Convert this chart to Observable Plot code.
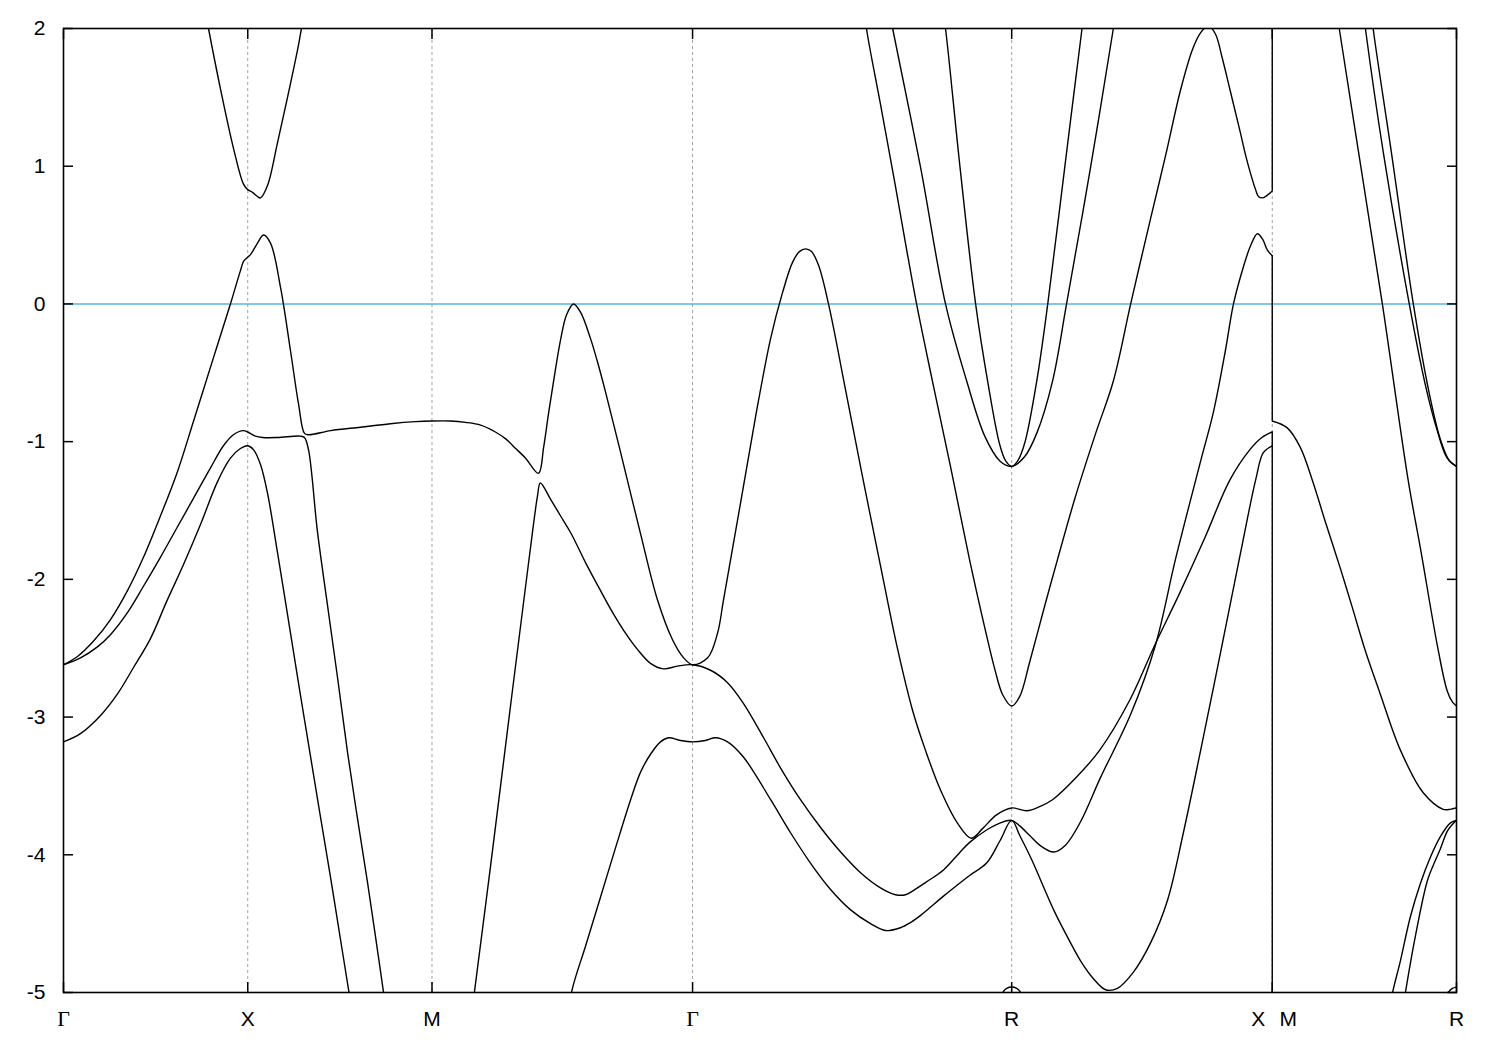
<!DOCTYPE html>
<html><head><meta charset="utf-8">
<script src="https://cdn.jsdelivr.net/npm/d3@7"></script>
<script src="https://cdn.jsdelivr.net/npm/@observablehq/plot@0.6"></script>
<style>body{margin:0;background:#fff}</style>
</head><body><div id="chart"></div>
<script>
// High-symmetry points (path length) and their labels
const kPoints = [0, 0.5, 1.0, 1.7071, 2.5731, 3.2802, 3.7802];
const kNames = ["Γ", "X", "M", "Γ", "R", "X|M", "R"];
const yTicks = [-5, -4, -3, -2, -1, 0, 1, 2];
const fermiLevel = [0];
// energy jumps drawn at the X|M discontinuity [from, to]
const xmJumps = [[2, 0.82], [0.35, -0.85], [-0.93, -5]];

// Bands: [k, E(eV)]
const bandA = [[0,-3.18],[0.046,-3.12],[0.100,-2.99],[0.147,-2.83],[0.190,-2.64],[0.236,-2.43],[0.280,-2.16],[0.326,-1.89],[0.372,-1.60],[0.418,-1.29],[0.453,-1.12],[0.480,-1.05],[0.500,-1.03],[0.516,-1.06],[0.535,-1.17],[0.554,-1.38],[0.581,-1.81],[0.616,-2.39],[0.643,-2.84],[0.670,-3.28],[0.697,-3.72],[0.725,-4.17],[0.752,-4.62],[0.773,-4.97],[0.784,-5.15]];
const bandB = [[0,-2.62],[0.046,-2.57],[0.092,-2.49],[0.128,-2.40],[0.174,-2.24],[0.217,-2.05],[0.263,-1.84],[0.309,-1.62],[0.353,-1.41],[0.399,-1.19],[0.434,-1.03],[0.461,-0.95],[0.488,-0.92],[0.500,-0.93],[0.521,-0.96],[0.540,-0.97],[0.581,-0.97],[0.643,-0.96],[0.654,-0.97],[0.665,-1.06],[0.689,-1.65],[0.716,-2.18],[0.744,-2.72],[0.771,-3.26],[0.798,-3.74],[0.825,-4.20],[0.847,-4.60],[0.868,-4.99],[0.879,-5.2]];
const bandC = [[0,-2.62],[0.038,-2.56],[0.081,-2.45],[0.128,-2.29],[0.174,-2.08],[0.217,-1.84],[0.263,-1.54],[0.309,-1.22],[0.353,-0.85],[0.407,-0.39],[0.453,0.0],[0.480,0.24],[0.489,0.31],[0.508,0.36],[0.526,0.44],[0.543,0.50],[0.562,0.44],[0.589,0.12],[0.616,-0.34],[0.638,-0.73],[0.654,-0.94],[0.665,-0.95],[0.725,-0.92],[0.806,-0.895],[0.887,-0.87],[0.955,-0.855],[1.0,-0.85],[1.050,-0.85],[1.091,-0.86],[1.132,-0.88],[1.172,-0.93],[1.200,-0.98],[1.227,-1.05],[1.254,-1.12],[1.289,-1.23],[1.303,-1.04],[1.316,-0.80],[1.330,-0.56],[1.349,-0.26],[1.365,-0.08],[1.384,0.0],[1.403,-0.06],[1.430,-0.25],[1.449,-0.42],[1.471,-0.64],[1.512,-1.08],[1.566,-1.67],[1.612,-2.15],[1.653,-2.44],[1.683,-2.57],[1.7071,-2.62],[1.748,-2.57],[1.775,-2.39],[1.791,-2.15],[1.837,-1.45],[1.878,-0.82],[1.919,-0.25],[1.951,0.08],[1.978,0.30],[1.997,0.38],[2.014,0.40],[2.030,0.38],[2.049,0.28],[2.076,0.0],[2.122,-0.62],[2.168,-1.25],[2.217,-1.90],[2.263,-2.50],[2.304,-2.95],[2.339,-3.24],[2.380,-3.53],[2.426,-3.77],[2.464,-3.88],[2.494,-3.81],[2.532,-3.71],[2.5731,-3.66],[2.614,-3.68],[2.649,-3.65],[2.684,-3.60],[2.744,-3.45],[2.812,-3.24],[2.893,-2.88],[2.961,-2.48],[3.029,-2.10],[3.097,-1.70],[3.165,-1.28],[3.219,-1.06],[3.252,-0.97],[3.2802,-0.93]];
const bandD = [[1.104,-5.25],[1.115,-5.0],[1.159,-4.08],[1.213,-2.92],[1.254,-2.05],[1.273,-1.65],[1.286,-1.40],[1.294,-1.30],[1.322,-1.42],[1.349,-1.54],[1.376,-1.66],[1.417,-1.88],[1.457,-2.08],[1.490,-2.24],[1.520,-2.37],[1.558,-2.51],[1.593,-2.61],[1.628,-2.65],[1.666,-2.63],[1.7071,-2.62],[1.756,-2.66],[1.802,-2.75],[1.845,-2.90],[1.900,-3.15],[1.946,-3.37],[2.000,-3.60],[2.054,-3.80],[2.109,-3.98],[2.163,-4.13],[2.217,-4.24],[2.258,-4.29],[2.285,-4.29],[2.312,-4.25],[2.340,-4.20],[2.388,-4.11],[2.430,-3.99],[2.459,-3.91],[2.505,-3.82],[2.541,-3.77],[2.5731,-3.75],[2.595,-3.79],[2.622,-3.86],[2.649,-3.93],[2.687,-3.98],[2.719,-3.93],[2.760,-3.76],[2.814,-3.44],[2.896,-2.98],[2.963,-2.48],[3.018,-1.85],[3.086,-1.14],[3.121,-0.78],[3.153,-0.34],[3.175,0.0],[3.202,0.27],[3.221,0.42],[3.240,0.51],[3.254,0.47],[3.267,0.39],[3.2802,0.35]];
const bandE = [[1.368,-5.25],[1.3785,-5.0],[1.417,-4.66],[1.457,-4.31],[1.498,-3.95],[1.539,-3.60],[1.566,-3.40],[1.593,-3.27],[1.620,-3.18],[1.642,-3.15],[1.674,-3.17],[1.7071,-3.18],[1.742,-3.17],[1.769,-3.15],[1.802,-3.18],[1.845,-3.29],[1.919,-3.60],[1.973,-3.84],[2.027,-4.06],[2.081,-4.25],[2.136,-4.40],[2.190,-4.50],[2.231,-4.55],[2.271,-4.53],[2.300,-4.49],[2.326,-4.44],[2.388,-4.30],[2.430,-4.21],[2.459,-4.15],[2.505,-4.06],[2.541,-3.90],[2.5731,-3.75],[2.595,-3.86],[2.630,-4.05],[2.659,-4.23],[2.687,-4.40],[2.725,-4.60],[2.760,-4.77],[2.795,-4.90],[2.828,-4.98],[2.860,-4.97],[2.904,-4.85],[2.950,-4.64],[2.996,-4.33],[3.039,-3.84],[3.086,-3.24],[3.140,-2.53],[3.194,-1.81],[3.235,-1.28],[3.256,-1.08],[3.2802,-1.03]];
const bandF = [[2.168,2.25],[2.179,2.0],[2.217,1.45],[2.258,0.85],[2.285,0.44],[2.315,0.0],[2.358,-0.56],[2.407,-1.18],[2.459,-1.86],[2.500,-2.35],[2.527,-2.65],[2.549,-2.84],[2.5731,-2.92],[2.595,-2.85],[2.622,-2.60],[2.663,-2.19],[2.697,-1.86],[2.746,-1.40],[2.801,-0.94],[2.849,-0.56],[2.896,0.0],[2.950,0.62],[2.991,1.08],[3.031,1.55],[3.064,1.85],[3.086,1.97],[3.107,2.02],[3.126,1.96],[3.145,1.78],[3.166,1.55],[3.194,1.24],[3.207,1.09],[3.221,0.95],[3.235,0.83],[3.243,0.78],[3.254,0.77],[3.267,0.79],[3.2802,0.82]];
const bandG = [[0.3853,2.12],[0.3935,2.0],[0.4261,1.56],[0.4613,1.13],[0.4885,0.87],[0.5,0.83],[0.5129,0.81],[0.5265,0.78],[0.5346,0.77],[0.5536,0.86],[0.5807,1.17],[0.6079,1.50],[0.6377,1.88],[0.6458,2.0],[0.6540,2.1]];
const bandP1 = [[2.239,2.15],[2.250,2.0],[2.326,0.99],[2.3935,0.0],[2.451,-0.56],[2.500,-0.96],[2.541,-1.14],[2.5731,-1.18],[2.608,-1.11],[2.641,-0.94],[2.684,-0.56],[2.722,0.0],[2.787,0.99],[2.849,2.0],[2.857,2.15]];
const bandP2 = [[2.385,2.15],[2.3935,2.0],[2.433,0.99],[2.4752,0.0],[2.5078,-0.56],[2.5405,-1.02],[2.5568,-1.14],[2.5731,-1.18],[2.5894,-1.14],[2.6085,-1.01],[2.6411,-0.56],[2.671,0.0],[2.717,0.99],[2.764,2.0],[2.772,2.15]];
const bandArc = [[2.535,-5.1],[2.5486,-5.0],[2.5595,-4.97],[2.5731,-4.96],[2.5867,-4.97],[2.5976,-5.0],[2.6112,-5.1]];
const bandM1 = [[3.2802,-0.85],[3.321,-0.90],[3.356,-1.04],[3.389,-1.28],[3.424,-1.58],[3.465,-1.92],[3.497,-2.20],[3.533,-2.52],[3.573,-2.83],[3.628,-3.24],[3.690,-3.55],[3.744,-3.67],[3.763,-3.67],[3.7802,-3.66]];
const bandMa = [[3.451,2.2],[3.462,2.0],[3.514,1.11],[3.579,0.0],[3.649,-1.28],[3.682,-1.77],[3.731,-2.52],[3.755,-2.81],[3.769,-2.89],[3.7802,-2.92]];
const bandMb = [[3.524,2.2],[3.533,2.0],[3.581,1.11],[3.652,0.0],[3.695,-0.58],[3.728,-0.92],[3.755,-1.12],[3.7802,-1.18]];
const bandMc = [[3.546,2.2],[3.554,2.0],[3.603,1.11],[3.663,0.0],[3.704,-0.62],[3.736,-0.98],[3.761,-1.14],[3.7802,-1.18]];
const bandMd = [[3.595,-5.2],[3.606,-5.01],[3.628,-4.77],[3.655,-4.45],[3.682,-4.21],[3.709,-4.02],[3.736,-3.87],[3.763,-3.77],[3.7802,-3.75]];
const bandMe = [[3.630,-5.2],[3.641,-5.01],[3.668,-4.6],[3.701,-4.19],[3.723,-4.04],[3.736,-3.96],[3.755,-3.83],[3.769,-3.78],[3.7802,-3.75]];
const bandMf = [[3.744,-5.1],[3.758,-5.0],[3.769,-4.97],[3.7802,-4.96]];

const bandSeries = [["A",bandA],["B",bandB],["C",bandC],["D",bandD],["E",bandE],["F",bandF],["G",bandG],["P1",bandP1],["P2",bandP2],["Arc",bandArc],["M1",bandM1],["Ma",bandMa],["Mb",bandMb],["Mc",bandMc],["Md",bandMd],["Me",bandMe],["Mf",bandMf]];
const rows = bandSeries.flatMap(([id, pts]) => pts.map(([k, e]) => ({id, k, e})));
const labels = kPoints.map((k, i) => ({k, name: kNames[i]}));
const jumps = xmJumps.map(([a, b]) => ({k: kPoints[5], y1: a, y2: b}));
const gridK = kPoints.slice(1, -1);

const sans = "Liberation Sans, Arial, sans-serif";
const serif = "Liberation Serif, Times New Roman, serif";

const chart = Plot.plot({
  width: 1500, height: 1050,
  marginLeft: 63, marginRight: 44, marginTop: 28, marginBottom: 58,
  style: {fontFamily: sans, fontSize: "21px", background: "#fff"},
  x: {domain: [0, 3.7802]},
  y: {domain: [-5, 2]},
  marks: [
    Plot.ruleX(gridK, {stroke: "#a0a0a0", strokeWidth: 1, strokeDasharray: "3,3"}),
    Plot.ruleY(fermiLevel, {stroke: "#56b4e9", strokeWidth: 1.6}),
    Plot.line(rows, {x: "k", y: "e", z: "id", stroke: "black", strokeWidth: 1.4, curve: "catmull-rom", clip: true}),
    Plot.ruleX(jumps, {x: "k", y1: "y1", y2: "y2", stroke: "black", strokeWidth: 1.4}),
    Plot.frame({stroke: "black", strokeWidth: 1.6}),
    Plot.axisY(yTicks, {anchor: "left", tickSize: -10, tickPadding: 28, tickFormat: d => String(d), fontSize: 21, label: null, strokeWidth: 1.5}),
    Plot.axisY(yTicks, {anchor: "right", tickSize: -10, tickFormat: () => "", label: null, strokeWidth: 1.5}),
    Plot.axisX(kPoints, {anchor: "bottom", tickSize: -10, tickFormat: () => "", label: null, strokeWidth: 1.5}),
    Plot.axisX(kPoints, {anchor: "top", tickSize: -10, tickFormat: () => "", label: null, strokeWidth: 1.5}),
    Plot.text(labels.filter(d => d.name !== "Γ" && d.name !== "X|M"), {x: "k", text: "name", frameAnchor: "bottom", dy: 33, fontSize: 21, fontFamily: sans}),
    Plot.text(labels.filter(d => d.name === "Γ"), {x: "k", text: "name", frameAnchor: "bottom", dy: 33, fontSize: 22, fontFamily: serif}),
    Plot.text(labels.filter(d => d.name === "X|M"), {x: "k", text: d => d.name.split("|")[0], frameAnchor: "bottom", dy: 33, dx: -14, fontSize: 21, fontFamily: sans}),
    Plot.text(labels.filter(d => d.name === "X|M"), {x: "k", text: d => d.name.split("|")[1], frameAnchor: "bottom", dy: 33, dx: 16, fontSize: 21, fontFamily: sans})
  ]
});
document.getElementById("chart").appendChild(chart);
</script>
</body></html>
